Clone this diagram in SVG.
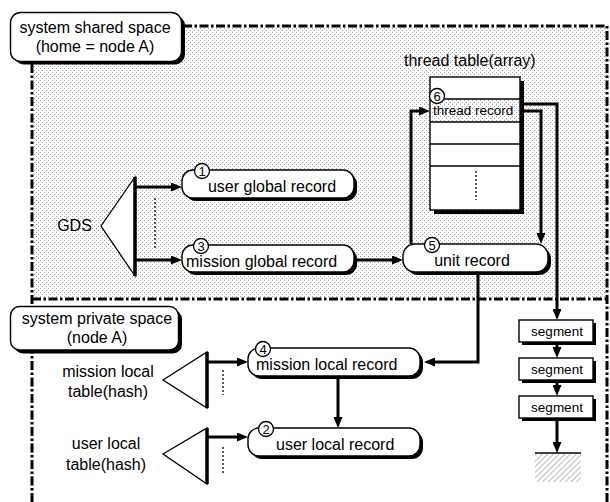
<svg xmlns="http://www.w3.org/2000/svg" width="610" height="502" viewBox="0 0 610 502">
  <defs>
    <style>
      .t { font-family: "Liberation Sans", Arial, sans-serif; font-size: 16px; fill: #000; }
      .ts { font-family: "Liberation Sans", Arial, sans-serif; font-size: 13.5px; fill: #000; }
      .num { font-family: "Liberation Sans", Arial, sans-serif; font-size: 13px; fill: #000; text-anchor: middle; }
      .mid { text-anchor: middle; }
      .box { fill: #fff; stroke: #000; stroke-width: 1.4; }
      .shd { fill: #000; }
      .badge { fill: #fff; stroke: #000; stroke-width: 1.3; }
      .conn { fill: none; stroke: #000; stroke-width: 3; }
      .arr { marker-end: url(#ah); }
      .dots { fill: none; stroke: #000; stroke-width: 1.3; stroke-dasharray: 2 2; }
      .border { fill: none; stroke: #000; stroke-width: 3; stroke-dasharray: 9 2.5 2.5 2.5; }
      .thin { stroke: #000; stroke-width: 1.3; fill: none; }
      .tri { fill: #fff; stroke: #000; stroke-width: 1.3; }
      .bar { stroke: #000; stroke-width: 3.5; }
    </style>
    <pattern id="stipple" width="4" height="4" patternUnits="userSpaceOnUse">
      <rect x="0" y="0" width="1" height="1" fill="#a4a4a4"/>
      <rect x="2" y="2" width="1" height="1" fill="#a4a4a4"/>
    </pattern>
    <pattern id="hatch" width="4" height="4" patternUnits="userSpaceOnUse" patternTransform="rotate(45)">
      <line x1="0" y1="0" x2="0" y2="4" stroke="#777" stroke-width="1"/>
    </pattern>
    <marker id="ah" markerWidth="11" markerHeight="9" refX="1" refY="4.5" orient="auto" markerUnits="userSpaceOnUse">
      <path d="M0,0 L11,4.5 L0,9 z" fill="#000"/>
    </marker>
  </defs>

  <!-- shared space area -->
  <g id="shared-space">
    <rect x="33.5" y="27.5" width="572" height="270" fill="url(#stipple)"/>
    <path class="border" d="M32,502 V26 H607 V502"/>
    <path class="border" d="M32,299 H607"/>
  </g>

  <g id="label-shared">
    <rect class="shd" x="14" y="15.5" width="171" height="49" rx="10"/>
    <rect class="box" x="10.5" y="12.5" width="171" height="49" rx="10"/>
    <text class="t mid" x="95" y="33">system shared space</text>
    <text class="t mid" x="95" y="52">(home = node A)</text>
  </g>

  <g id="label-private">
    <rect class="shd" x="14" y="310" width="168" height="43.5" rx="9"/>
    <rect class="box" x="10.5" y="306.5" width="168" height="43.5" rx="9"/>
    <text class="t mid" x="97" y="324">system private space</text>
    <text class="t mid" x="97" y="343">(node A)</text>
  </g>

  <!-- connectors -->
  <g id="connectors">
    <path class="conn arr" d="M135,187 H172"/>
    <path class="conn arr" d="M135,260 H172"/>
    <path class="conn arr" d="M357,260 H393"/>
    <path class="conn arr" d="M411,244 V111 H420"/>
    <path class="conn arr" d="M520,111 H541 V234"/>
    <path class="conn arr" d="M520,104 H557 V310"/>
    <path class="conn arr" d="M478,275 V362 H434"/>
    <path class="conn arr" d="M338,379 V418"/>
    <path class="conn arr" d="M207,362 H238"/>
    <path class="conn arr" d="M207,437 H238"/>
    <path class="conn arr" d="M557,343 V348"/>
    <path class="conn arr" d="M557,381 V386"/>
    <path class="conn arr" d="M557,419 V443"/>
  </g>

  <g id="gds">
    <polygon class="tri" points="101,226 135,177 135,276"/>
    <line class="bar" x1="135" y1="177" x2="135" y2="276"/>
    <line class="dots" x1="155" y1="198" x2="155" y2="250"/>
    <text class="t mid" x="74.5" y="231">GDS</text>
  </g>

  <g id="mission-local-table">
    <polygon class="tri" points="163,380 207,352 207,408"/>
    <line class="bar" x1="207" y1="352" x2="207" y2="408"/>
    <line class="dots" x1="223" y1="370" x2="223" y2="395"/>
    <text class="t mid" x="108" y="377">mission local</text>
    <text class="t mid" x="108" y="397">table(hash)</text>
  </g>

  <g id="user-local-table">
    <polygon class="tri" points="163,454 207,428 207,484"/>
    <line class="bar" x1="207" y1="428" x2="207" y2="484"/>
    <line class="dots" x1="223" y1="447" x2="223" y2="473"/>
    <text class="t mid" x="106" y="449">user local</text>
    <text class="t mid" x="106" y="470">table(hash)</text>
  </g>

  <g id="user-global-record">
    <rect class="shd" x="185" y="173" width="172" height="28" rx="11"/>
    <rect class="box" x="182" y="170" width="172" height="28" rx="11"/>
    <circle class="badge" cx="202" cy="171" r="7.5"/>
    <text class="num" x="202" y="175.5">1</text>
    <text class="t mid" x="272" y="192">user global record</text>
  </g>

  <g id="mission-global-record">
    <rect class="shd" x="185" y="248" width="172" height="27" rx="11"/>
    <rect class="box" x="182" y="245" width="172" height="27" rx="11"/>
    <circle class="badge" cx="201" cy="246" r="7.5"/>
    <text class="num" x="201" y="250.5">3</text>
    <text class="t" x="186" y="267">mission global record</text>
  </g>

  <g id="unit-record">
    <rect class="shd" x="406" y="247" width="145" height="28" rx="12"/>
    <rect class="box" x="403" y="244" width="145" height="28" rx="12"/>
    <circle class="badge" cx="432" cy="245" r="7.5"/>
    <text class="num" x="432" y="249.5">5</text>
    <text class="t mid" x="472" y="266">unit record</text>
  </g>

  <g id="thread-table">
    <text class="t" x="404" y="66">thread table(array)</text>
    <rect class="shd" x="434" y="81" width="90" height="133"/>
    <rect class="box" x="430" y="77" width="90" height="133"/>
    <rect x="430.7" y="99" width="88.6" height="23" fill="url(#stipple)"/>
    <line class="thin" x1="430" y1="99" x2="520" y2="99"/>
    <line class="thin" x1="430" y1="122" x2="520" y2="122"/>
    <line class="thin" x1="430" y1="144" x2="520" y2="144"/>
    <line class="thin" x1="430" y1="166" x2="520" y2="166"/>
    <line class="dots" x1="476" y1="171" x2="476" y2="200"/>
    <circle class="badge" cx="437" cy="96" r="7.5"/>
    <text class="num" x="437" y="100.5">6</text>
    <text class="ts" x="433" y="115">thread record</text>
  </g>

  <g id="mission-local-record">
    <rect class="shd" x="251" y="351" width="172" height="28" rx="11"/>
    <rect class="box" x="248" y="348" width="172" height="28" rx="11"/>
    <circle class="badge" cx="263" cy="349" r="7.5"/>
    <text class="num" x="263" y="353.5">4</text>
    <text class="t" x="256" y="370">mission local record</text>
  </g>

  <g id="user-local-record">
    <rect class="shd" x="251" y="431" width="172" height="28" rx="11"/>
    <rect class="box" x="248" y="428" width="172" height="28" rx="11"/>
    <circle class="badge" cx="266" cy="429" r="7.5"/>
    <text class="num" x="266" y="433.5">2</text>
    <text class="t" x="276" y="450">user local record</text>
  </g>

  <g id="segment-1">
    <rect class="shd" x="522" y="323" width="74" height="22"/>
    <rect class="box" x="519" y="320" width="74" height="22"/>
    <text class="ts mid" x="557" y="336">segment</text>
  </g>
  <g id="segment-2">
    <rect class="shd" x="522" y="361" width="74" height="22"/>
    <rect class="box" x="519" y="358" width="74" height="22"/>
    <text class="ts mid" x="557" y="374">segment</text>
  </g>
  <g id="segment-3">
    <rect class="shd" x="522" y="399" width="74" height="22"/>
    <rect class="box" x="519" y="396" width="74" height="22"/>
    <text class="ts mid" x="557" y="412">segment</text>
  </g>

  <g id="ground">
    <rect x="535" y="454" width="46" height="28" fill="url(#hatch)"/>
    <line x1="535" y1="453" x2="581" y2="453" stroke="#000" stroke-width="1.5"/>
  </g>
</svg>
